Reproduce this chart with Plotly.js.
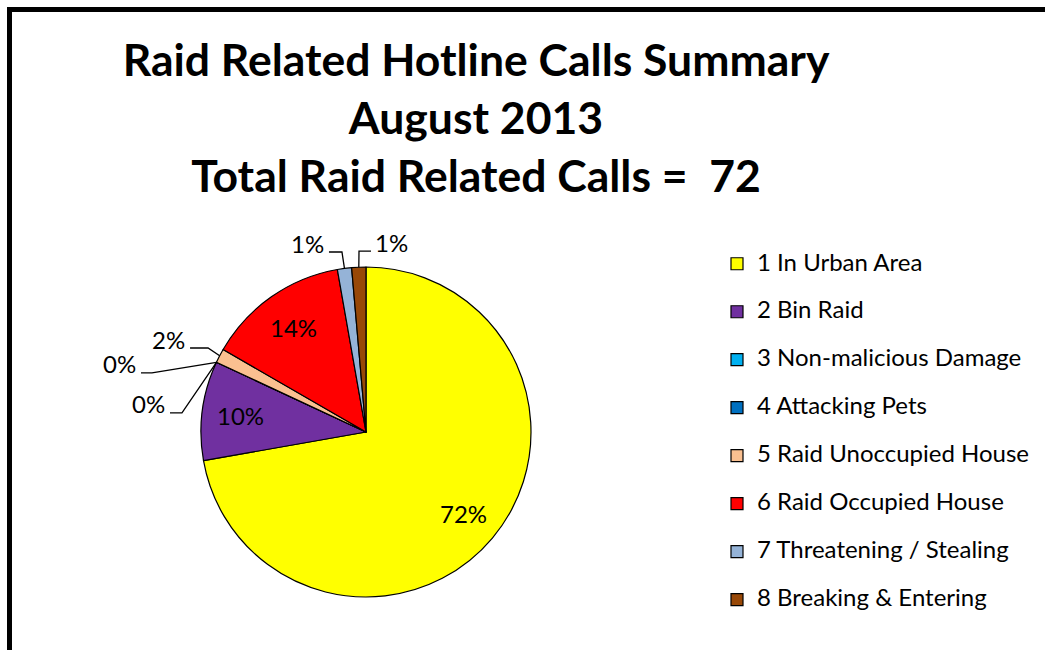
<!DOCTYPE html>
<html><head><meta charset="utf-8">
<script src="https://cdn.plot.ly/plotly-3.0.1.min.js"></script>
<style>html,body{margin:0;padding:0;background:#fff}#chart{width:1045px;height:650px}</style>
</head><body><div id="chart"></div>
<script>
// ---- data ----
const categories = ['1 In Urban Area','2 Bin Raid','3 Non-malicious Damage','4 Attacking Pets','5 Raid Unoccupied House','6 Raid Occupied House','7 Threatening / Stealing','8 Breaking & Entering'];
const callCounts = [52, 7, 0, 0, 1, 10, 1, 1];
const percentLabels = ['72%','10%','0%','0%','2%','14%','1%','1%'];
const sliceColors = ['#FFFF00','#7030A0','#00B0F0','#0070C0','#FAC090','#FF0000','#95B3D7','#984807'];
const titleLines = ['Raid Related Hotline Calls Summary','August 2013','Total Raid Related Calls = \u00a072'];

// ---- layout / style ----
const W = 1045, H = 650;
const FONT = 'Lato, "Open Sans", sans-serif';
const pieGeom = {cx: 366, cy: 432, r: 165};
const insideRadius = 0.77;
const labelFontSize = 24;
// leader-line layout for the small slices: elbow offset from slice edge (px), horizontal run (px)
const leaderLayout = {
  2: {elbow: [-64.5, 10.7], run: -11},
  3: {elbow: [-34.5, 50.7], run: -12},
  4: {elbow: [-11.6, -7.8], run: -18},
  6: {elbow: [-2.5, -16.4], run: -13},
  7: {elbow: [0.2, -16], run: 12}
};

const px2x = p => p / W, py2y = p => 1 - p / H;
const total = callCounts.reduce((a, b) => a + b, 0);
let cum = 0;
const midAngles = callCounts.map(v => { const m = (cum + v / 2) / total * 2 * Math.PI; cum += v; return m; });
const polar = (t, rad) => [pieGeom.cx + rad * Math.sin(t), pieGeom.cy - rad * Math.cos(t)];

const annotations = [];
const shapes = [{
  type: 'rect', xref: 'paper', yref: 'paper',
  x0: px2x(9.5), x1: 1.02, y0: -0.02, y1: py2y(9.5),
  line: {color: '#000', width: 5}, fillcolor: 'rgba(0,0,0,0)', layer: 'above'
}];

callCounts.forEach((v, i) => {
  const t = midAngles[i];
  if (leaderLayout[i]) {
    const L = leaderLayout[i];
    const [ax, ay] = polar(t, pieGeom.r);
    const ex = ax + L.elbow[0], ey = ay + L.elbow[1];
    const fx = ex + L.run;
    shapes.push({
      type: 'path', xref: 'paper', yref: 'paper',
      path: `M${px2x(ax)},${py2y(ay)} L${px2x(ex)},${py2y(ey)} L${px2x(fx)},${py2y(ey)}`,
      line: {color: '#000', width: 1.3}
    });
    const left = L.run < 0;
    annotations.push({
      xref: 'paper', yref: 'paper', showarrow: false,
      x: px2x(fx + (left ? -3 : 2)), y: py2y(ey - 9),
      xanchor: left ? 'right' : 'left', yanchor: 'middle',
      text: percentLabels[i], font: {family: FONT, size: labelFontSize, color: '#000'}
    });
  } else {
    const [lx, ly] = polar(t, pieGeom.r * insideRadius);
    annotations.push({
      xref: 'paper', yref: 'paper', showarrow: false,
      x: px2x(lx), y: py2y(ly), xanchor: 'center', yanchor: 'middle',
      text: percentLabels[i], font: {family: FONT, size: labelFontSize, color: '#000'}
    });
  }
});

const legendTextSize = 24;
const legendLabels = categories.map(c => `<span style="font-size:${legendTextSize}px">${c}</span><br> `);

const trace = {
  type: 'pie',
  labels: legendLabels,
  values: callCounts,
  customdata: categories,
  sort: false,
  direction: 'clockwise',
  rotation: 0,
  textinfo: 'none',
  hovertemplate: '%{customdata}: %{value}<extra></extra>',
  marker: {colors: sliceColors, line: {color: '#000', width: 1.2}},
  domain: {
    x: [px2x(pieGeom.cx - pieGeom.r), px2x(pieGeom.cx + pieGeom.r)],
    y: [py2y(pieGeom.cy + pieGeom.r), py2y(pieGeom.cy - pieGeom.r)]
  },
  showlegend: true
};

const titleSize = 44.5;
const layout = {
  width: W, height: H,
  margin: {l: 0, r: 0, t: 0, b: 0},
  paper_bgcolor: '#fff',
  font: {family: FONT, color: '#000'},
  title: {
    text: titleLines.map(s => `<span style="font-size:${titleSize}px">${s}</span>`).join('<br>'),
    font: {family: FONT, size: 44.6, color: '#000', weight: 700},
    x: 476 / W, xanchor: 'center', xref: 'paper',
    y: py2y(76), yanchor: 'top', yref: 'paper', automargin: false
  },
  showlegend: true,
  legend: {
    x: px2x(717), xanchor: 'left', y: py2y(246), yanchor: 'top',
    font: {family: FONT, size: 17.3, color: '#000'},
    valign: 'top', bgcolor: 'rgba(0,0,0,0)', traceorder: 'normal'
  },
  annotations: annotations,
  shapes: shapes
};

Plotly.newPlot('chart', [trace], layout, {displayModeBar: false, staticPlot: true});
</script>
</body></html>
